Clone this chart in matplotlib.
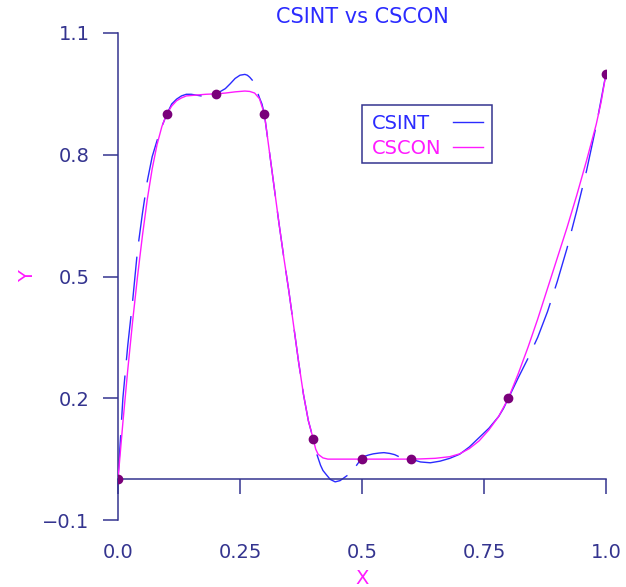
"""CSINT vs CSCON: interpolating spline against the convexity-preserving one"""

import matplotlib
matplotlib.use("Agg")
import matplotlib.pyplot as plt
from matplotlib.patches import Rectangle

plt.rcParams['font.family'] = ['DejaVu Sans']
plt.rcParams['lines.scale_dashes'] = False

NAVY = '#34348f'
BLUE = '#2b2bff'
MAGENTA = '#ff1aff'
PURPLE = '#7a007a'
FS = 14

# the data points
data_x = [0.0, 0.1, 0.2, 0.3, 0.4, 0.5, 0.6, 0.8, 1.0]
data_y = [0.0, 0.9, 0.95, 0.9, 0.1, 0.05, 0.05, 0.2, 1.0]

# CSCON curve
cscon_x = [0.0, 0.01, 0.02, 0.03, 0.04, 0.05, 0.06, 0.07, 0.08, 0.09, 0.10,
           0.11, 0.12, 0.13, 0.14, 0.16, 0.18, 0.20, 0.22, 0.24, 0.26, 0.27,
           0.28, 0.29, 0.30, 0.31, 0.32, 0.33, 0.34, 0.35, 0.36, 0.37, 0.38,
           0.39, 0.40, 0.405, 0.41, 0.42, 0.43, 0.45, 0.50, 0.55, 0.60, 0.62,
           0.65, 0.68, 0.70, 0.72, 0.74, 0.76, 0.78, 0.80, 0.82, 0.84, 0.86,
           0.88, 0.90, 0.92, 0.94, 0.96, 0.97, 0.98, 0.99, 1.0]
cscon_y = [0.0, 0.14, 0.27, 0.39, 0.50, 0.60, 0.69, 0.765, 0.825, 0.87, 0.90,
           0.92, 0.933, 0.94, 0.945, 0.947, 0.949, 0.95, 0.952, 0.955, 0.957, 0.956,
           0.952, 0.938, 0.90, 0.81, 0.72, 0.63, 0.545, 0.465, 0.378, 0.29, 0.21,
           0.145, 0.10, 0.075, 0.062, 0.053, 0.05, 0.05, 0.05, 0.05, 0.05, 0.0505,
           0.052, 0.056, 0.063, 0.076, 0.095, 0.122, 0.155, 0.20, 0.26, 0.325, 0.395,
           0.47, 0.545, 0.62, 0.70, 0.785, 0.83, 0.875, 0.93, 1.0]

# CSINT curve, it comes out in broken pieces in the original
csint_x = [
    [0.0, 0.005, 0.01, 0.02, 0.03, 0.04, 0.05, 0.06, 0.07, 0.08, 0.09, 0.10],
    [0.10, 0.11, 0.12, 0.13, 0.14, 0.15, 0.16, 0.17],
    [0.205, 0.21, 0.22, 0.23, 0.24, 0.25, 0.26, 0.265, 0.27, 0.275],
    [0.287, 0.29, 0.295, 0.30, 0.31, 0.32, 0.33, 0.34, 0.35, 0.36, 0.37, 0.38, 0.39, 0.40],
    [0.408, 0.415, 0.42, 0.428, 0.435, 0.445, 0.455, 0.462, 0.469],
    [0.489, 0.495, 0.503, 0.513, 0.523, 0.535, 0.545, 0.557, 0.567, 0.574],
    [0.60, 0.62, 0.64, 0.66, 0.68, 0.70, 0.72, 0.74, 0.76, 0.78, 0.79, 0.80],
    [0.80, 0.82, 0.84, 0.86, 0.88, 0.90, 0.92, 0.94, 0.96, 0.98, 1.0],
]
csint_y = [
    [0.0, 0.10, 0.20, 0.33, 0.44, 0.565, 0.655, 0.735, 0.795, 0.835, 0.87, 0.90],
    [0.90, 0.925, 0.937, 0.945, 0.949, 0.949, 0.947, 0.945],
    [0.953, 0.956, 0.963, 0.975, 0.988, 0.996, 0.998, 0.996, 0.991, 0.984],
    [0.95, 0.94, 0.925, 0.90, 0.81, 0.72, 0.63, 0.545, 0.465, 0.378, 0.29, 0.21, 0.145, 0.10],
    [0.06, 0.035, 0.022, 0.01, 0.0, -0.006, -0.003, 0.003, 0.009],
    [0.035, 0.045, 0.056, 0.06, 0.063, 0.065, 0.066, 0.064, 0.061, 0.057],
    [0.05, 0.043, 0.041, 0.045, 0.052, 0.062, 0.08, 0.103, 0.126, 0.155, 0.175, 0.20],
    [0.20, 0.25, 0.298, 0.35, 0.413, 0.487, 0.569, 0.662, 0.76, 0.872, 1.0],
]

x_ticks = [0.0, 0.25, 0.5, 0.75, 1.0]
x_labels = ['0.0', '0.25', '0.5', '0.75', '1.0']
y_ticks = [-0.1, 0.2, 0.5, 0.8, 1.1]
y_labels = ['\u22120.1', '0.2', '0.5', '0.8', '1.1']

fig = plt.figure(figsize=(6.26, 5.87), dpi=100)
ax = fig.add_axes([118 / 626, 67 / 587, 488 / 626, 487 / 587])

# steep pieces show up with gaps, the flat ones are whole
steep = [0, 3, 7]
for i, (px, py) in enumerate(zip(csint_x, csint_y)):
    ls = (0, (32, 11)) if i in steep else '-'
    ax.plot(px, py, color=BLUE, lw=1.0, linestyle=ls, zorder=2)

ax.plot(cscon_x, cscon_y, color=MAGENTA, lw=1.0, zorder=3)
ax.plot(data_x, data_y, 'o', color=PURPLE, ms=6, zorder=4)

ax.set_xlim(0, 1)
ax.set_ylim(-0.1, 1.1)

ax.spines['top'].set_visible(False)
ax.spines['right'].set_visible(False)
ax.spines['bottom'].set_position(('data', 0))
for s in ('left', 'bottom'):
    ax.spines[s].set_color(NAVY)
    ax.spines[s].set_linewidth(1.1)

ax.set_xticks(x_ticks)
ax.set_xticklabels(x_labels)
ax.set_yticks(y_ticks)
ax.set_yticklabels(y_labels)
ax.tick_params(colors=NAVY, labelsize=FS, length=10.5, width=1.1, direction='out')
ax.tick_params(axis='x', pad=35)
ax.tick_params(axis='y', pad=10)

ax.set_xlabel('X', color=MAGENTA, fontsize=FS, labelpad=5)
ax.set_ylabel('Y', color=MAGENTA, fontsize=FS, labelpad=4)
ax.set_title('CSINT vs CSCON', color=BLUE, fontsize=15, pad=7)

# legend by hand: labels left aligned, samples lined up on the right
def axfrac(px, py):
    return (px - 118) / 488, (520 - py) / 487

bx0, by0 = axfrac(361.7, 162.7)
bx1, by1 = axfrac(491.7, 105)
ax.add_patch(Rectangle((bx0, by0), bx1 - bx0, by1 - by0, transform=ax.transAxes,
                       fill=True, facecolor='white', edgecolor=NAVY, lw=1.1, zorder=5))
for name, col, py in [('CSINT', BLUE, 123.3), ('CSCON', MAGENTA, 148.3)]:
    tx, ty = axfrac(372.3, py)
    ax.text(tx, ty, name, color=col, fontsize=FS, ha='left', va='center',
            transform=ax.transAxes, zorder=6)
    lx0, ly = axfrac(453.3, py - 1)
    lx1, _ = axfrac(482.7, py - 1)
    ax.plot([lx0, lx1], [ly, ly], color=col, lw=1.0, transform=ax.transAxes, zorder=6)

fig.savefig('out.png', dpi=100)
